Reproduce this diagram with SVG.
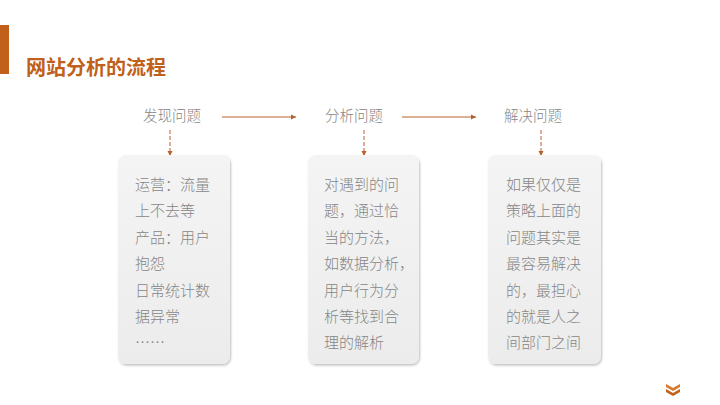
<svg xmlns="http://www.w3.org/2000/svg" width="720" height="405" viewBox="0 0 720 405">
<defs>
<linearGradient id="g" x1="0" y1="0" x2="0" y2="1"><stop offset="0" stop-color="#f4f4f4"/><stop offset="1" stop-color="#ececec"/></linearGradient>
<filter id="sh" x="-10%" y="-10%" width="130%" height="130%"><feDropShadow dx="1" dy="1.5" stdDeviation="1.2" flood-color="#000" flood-opacity="0.25"/></filter>
<marker id="ar" markerWidth="6" markerHeight="6" refX="5" refY="3" orient="auto"><path d="M0,0.5 L5,3 L0,5.5 z" fill="#b8602a"/></marker>
<style>
.box{fill:url(#g);filter:url(#sh)}
.t{font-family:"Noto Sans CJK SC","Noto Sans",sans-serif;font-size:15px;font-weight:300;fill:#868686}
.h{font-family:"Noto Sans CJK SC","Noto Sans",sans-serif;font-size:14.5px;font-weight:300;fill:#868686}
.c{stroke:#b8602a;stroke-width:1;fill:none}
</style>
</defs>
<rect width="720" height="405" fill="#fff"/>
<rect x="0" y="25" width="9" height="49" fill="#c0601a"/>
<text x="26" y="75" font-family="'Noto Sans CJK SC',sans-serif" font-size="20" font-weight="bold" fill="#c0601a">网站分析的流程</text>
<g id="connectors">
<line class="c" x1="222" y1="117" x2="296" y2="117" marker-end="url(#ar)"/>
<line class="c" x1="402" y1="117" x2="476" y2="117" marker-end="url(#ar)"/>
<line class="c" x1="170" y1="130" x2="170" y2="156" stroke-dasharray="4,2" marker-end="url(#ar)"/>
<line class="c" x1="364" y1="130" x2="364" y2="156" stroke-dasharray="4,2" marker-end="url(#ar)"/>
<line class="c" x1="541" y1="130" x2="541" y2="156" stroke-dasharray="4,2" marker-end="url(#ar)"/>
</g>
<g id="h1"><text class="h" x="172" y="121" text-anchor="middle">发现问题</text></g>
<g id="h2"><text class="h" x="354" y="121" text-anchor="middle">分析问题</text></g>
<g id="h3"><text class="h" x="533" y="121" text-anchor="middle">解决问题</text></g>
<g id="box1"><rect class="box" x="118" y="155" width="112" height="209" rx="8"/>
<text class="t" x="135"><tspan y="190">运营：流量</tspan><tspan x="135" y="216">上不去等</tspan><tspan x="135" y="243">产品：用户</tspan><tspan x="135" y="269">抱怨</tspan><tspan x="135" y="296">日常统计数</tspan><tspan x="135" y="322">据异常</tspan><tspan x="135" y="348">……</tspan></text></g>
<g id="box2"><rect class="box" x="308" y="155" width="111" height="209" rx="8"/>
<text class="t" x="324"><tspan y="190">对遇到的问</tspan><tspan x="324" y="216">题，通过恰</tspan><tspan x="324" y="243">当的方法，</tspan><tspan x="324" y="269">如数据分析，</tspan><tspan x="324" y="296">用户行为分</tspan><tspan x="324" y="322">析等找到合</tspan><tspan x="324" y="348">理的解析</tspan></text></g>
<g id="box3"><rect class="box" x="488" y="155" width="113" height="209" rx="8"/>
<text class="t" x="506"><tspan y="190">如果仅仅是</tspan><tspan x="506" y="216">策略上面的</tspan><tspan x="506" y="243">问题其实是</tspan><tspan x="506" y="269">最容易解决</tspan><tspan x="506" y="296">的，最担心</tspan><tspan x="506" y="322">的就是人之</tspan><tspan x="506" y="348">间部门之间</tspan></text></g>
<g id="chev" fill="#d9782a"><path d="M666,384 L673,388 L680,384 L680,387 L673,391 L666,387 z"/><path d="M666,389 L673,393 L680,389 L680,392 L673,396 L666,392 z" fill="#c0601a"/></g>
</svg>
